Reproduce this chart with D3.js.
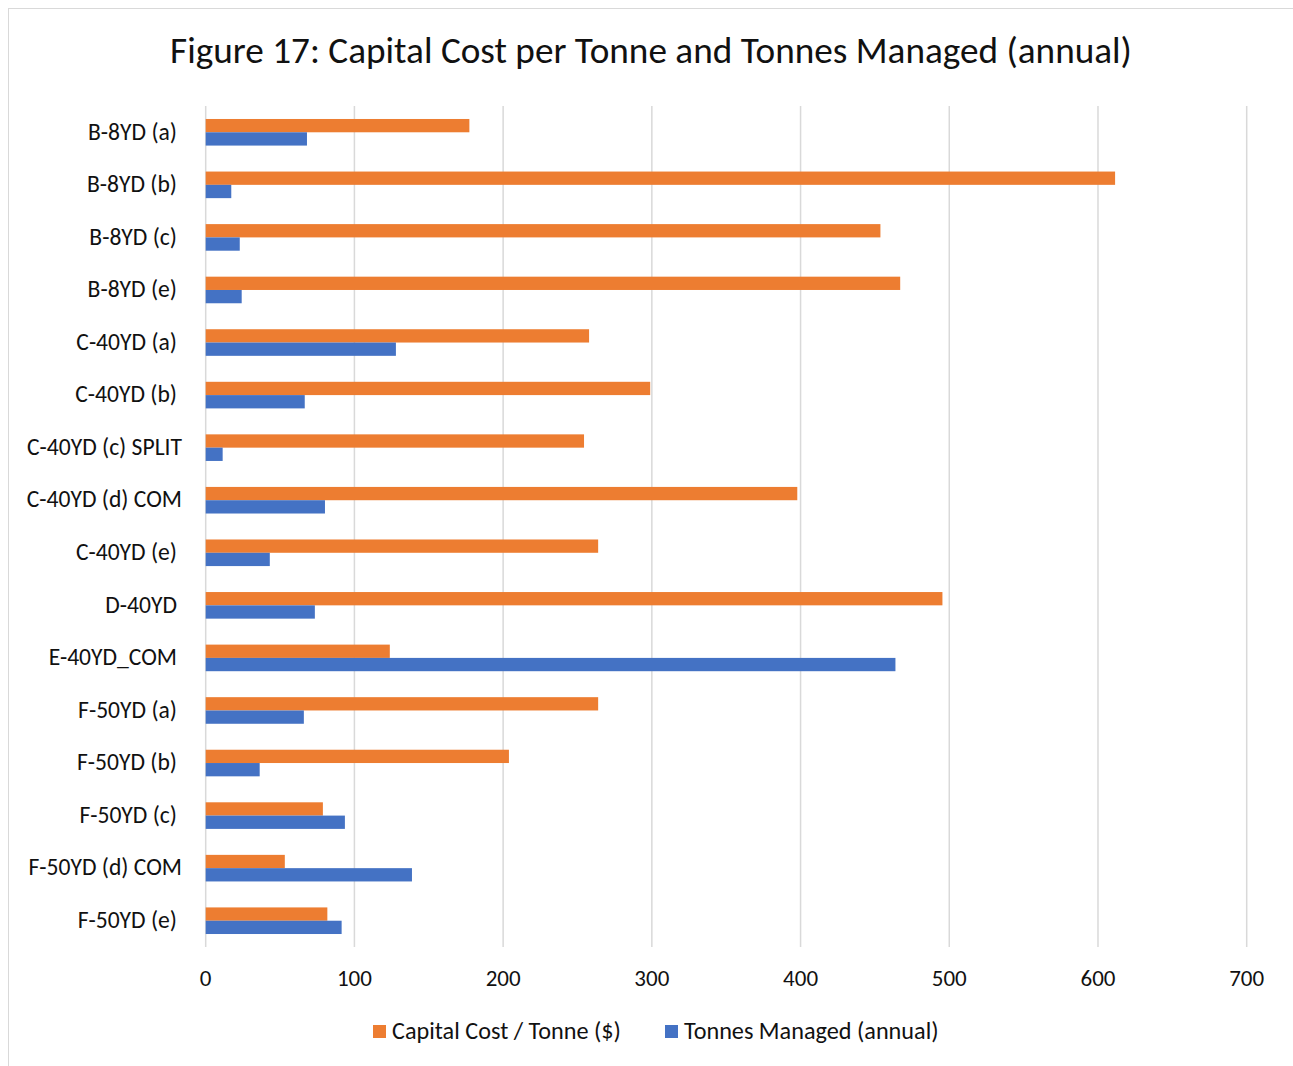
<!DOCTYPE html>
<html><head><meta charset="utf-8">
<script src="https://cdn.jsdelivr.net/npm/d3@7/dist/d3.min.js"></script>
<style>body{margin:0;background:#fff}svg{display:block}text{font-family:Carlito,Calibri,"Liberation Sans",sans-serif;fill:#111}</style>
</head><body>
<svg id="c" width="1293" height="1066"></svg>
<script>
const categories = ["B-8YD (a)","B-8YD (b)","B-8YD (c)","B-8YD (e)","C-40YD (a)","C-40YD (b)","C-40YD (c) SPLIT","C-40YD (d) COM","C-40YD (e)","D-40YD","E-40YD_COM","F-50YD (a)","F-50YD (b)","F-50YD (c)","F-50YD (d) COM","F-50YD (e)"];
const capitalCost = [177.3,611.5,453.7,467,257.8,298.9,254.4,397.8,263.9,495.4,123.8,263.9,203.9,78.8,53.2,81.8];
const tonnesManaged = [68.1,17.2,22.9,24.2,127.9,66.6,11.4,80.2,43.1,73.4,463.8,66,36.3,93.6,138.7,91.4];
const seriesNames = ["Capital Cost / Tonne ($)","Tonnes Managed (annual)"];
const seriesColors = ["#ED7D31","#4472C4"];
const xTicks = [0,100,200,300,400,500,600,700];

const svg = d3.select("#c");
svg.append("rect").attr("x",8.5).attr("y",8.5).attr("width",1300).attr("height",1070)
  .attr("fill","#fff").attr("stroke","#d9d9d9").attr("stroke-width",1);

const x = d3.scaleLinear().domain([0,700]).range([205.7,1246.7]);
const y = d3.scaleBand().domain(categories).range([106,947]).padding(0);
const bw = y.bandwidth();
const y1 = d3.scaleBand().domain([0,1]).range([bw*0.247, bw*0.753]);

function fit(sel, target, base){
  sel.style("font-size", base+"px");
  const w = sel.node().getComputedTextLength();
  return base*target/w;
}

svg.append("g").selectAll("line").data(xTicks).join("line")
  .attr("x1",d=>x(d)).attr("x2",d=>x(d)).attr("y1",106).attr("y2",947)
  .attr("stroke","#d9d9d9").attr("stroke-width",1.5);

const data = [capitalCost, tonnesManaged];
const g = svg.append("g");
data.forEach((arr,si)=>{
  g.selectAll(".s"+si).data(arr).join("rect")
    .attr("x",x(0)).attr("y",(d,i)=>y(categories[i])+y1(si))
    .attr("width",d=>x(d)-x(0)).attr("height",y1.bandwidth())
    .attr("fill",seriesColors[si]);
});

const title = svg.append("text").attr("x",651).attr("y",63).attr("text-anchor","middle")
  .text("Figure 17: Capital Cost per Tonne and Tonnes Managed (annual)");
title.style("font-size", fit(title,962,30)+"px");

const probe = svg.append("text").text("B-8YD (a)");
const catFs = fit(probe,89,20); probe.remove();
svg.append("g").selectAll("text").data(categories).join("text")
  .attr("x",d=>d.length>12?182:177).attr("y",d=>y(d)+bw/2-1).attr("dy","0.35em").attr("text-anchor","end")
  .style("font-size",catFs+"px").text(d=>d);

const probe2 = svg.append("text").text("100");
const tickFs = fit(probe2,35,20); probe2.remove();
svg.append("g").selectAll("text").data(xTicks).join("text")
  .attr("x",d=>x(d)).attr("y",986).attr("text-anchor","middle")
  .style("font-size",tickFs+"px").text(d=>d);

const probe3 = svg.append("text").text(seriesNames[0]);
const legFs = fit(probe3,229,20); probe3.remove();
const legX = [373,665];
const lg = svg.append("g");
seriesNames.forEach((n,i)=>{
  lg.append("rect").attr("x",legX[i]).attr("y",1025).attr("width",13).attr("height",13).attr("fill",seriesColors[i]);
  lg.append("text").attr("x",legX[i]+19).attr("y",1039).style("font-size",legFs+"px").text(n);
});
</script>
</body></html>
